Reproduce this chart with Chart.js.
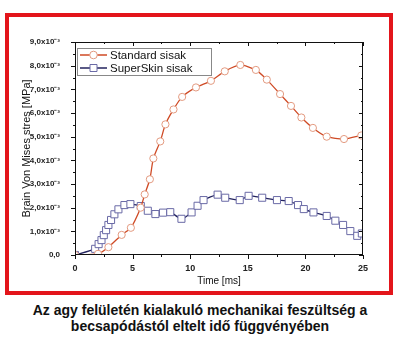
<!DOCTYPE html>
<html>
<head>
<meta charset="utf-8">
<script src="https://cdn.jsdelivr.net/npm/chart.js@4.4.1/dist/chart.umd.min.js"></script>
<style>
	html, body { margin: 0; padding: 0; background: #fff; }
	body { width: 400px; height: 352px; position: relative; overflow: hidden; }
	.frame {
		position: absolute; left: 5px; top: 13px; width: 388px; height: 282px;
		border: 4px solid #e3151b; box-sizing: border-box;
	}
	#chart { position: absolute; left: 0; top: 0; }
	.caption {
		position: absolute; left: 0; top: 302px; width: 400px; text-align: center;
		font: bold 14px "Liberation Sans", Arial, sans-serif; line-height: 16px; color: #111;
	}
</style>
</head>
<body>
<div class="frame"></div>
<canvas id="chart" width="400" height="300"></canvas>
<div class="caption">Az agy felületén kialakuló mechanikai feszültség a<br>becsapódástól eltelt idő függvényében</div>
<script>
// time in ms, stress in units of 1e-3 MPa
const stdTime   = [0, 2.0, 2.9, 4.05, 4.85, 5.7, 6.05, 6.5, 6.8, 7.4, 7.85, 8.55, 9.3, 10.5, 11.8, 13.0, 14.35, 15.7, 16.65, 17.8, 18.75, 19.65, 20.65, 21.85, 23.35, 24.85];
const stdStress = [0, 0.05, 0.33, 0.85, 1.15, 2.0, 2.56, 3.2, 4.08, 4.8, 5.52, 6.15, 6.68, 7.08, 7.36, 7.76, 8.03, 7.82, 7.41, 6.8, 6.3, 5.81, 5.37, 5.0, 4.9, 5.05];

const skinTime   = [0, 1.75, 2.05, 2.3, 2.5, 2.7, 2.9, 3.13, 3.42, 3.77, 4.29, 4.81, 5.71, 6.32, 6.98, 7.64, 8.27, 9.24, 10.12, 10.64, 11.16, 12.38, 13.04, 14.3, 15.07, 16.25, 17.53, 18.55, 19.36, 19.86, 20.7, 21.85, 22.6, 23.27, 23.9, 24.5, 24.9];
const skinStress = [0, 0.26, 0.46, 0.63, 0.84, 1.05, 1.27, 1.48, 1.72, 1.93, 2.11, 2.15, 2.07, 1.87, 1.73, 1.79, 1.81, 1.53, 1.8, 2.08, 2.32, 2.55, 2.42, 2.32, 2.5, 2.42, 2.32, 2.28, 2.11, 1.94, 1.8, 1.65, 1.45, 1.27, 1.01, 0.81, 0.91];

const seriesNames = ['Standard sisak', 'SuperSkin sisak'];
const xTicks = [0, 5, 10, 15, 20, 25];

const toPoints = (xs, ys) => xs.map((x, i) => ({ x: x, y: ys[i] }));

const fontFamily = '"Liberation Sans", Arial, sans-serif';

// frame box with mirrored ticks (major + minor)
const frameTicks = {
	id: 'frameTicks',
	afterDraw(chart) {
		const { ctx, chartArea: a, scales: { x, y } } = chart;
		ctx.save();
		ctx.strokeStyle = '#111';
		ctx.lineWidth = 1;
		ctx.strokeRect(a.left + 0.5, a.top + 0.5, a.right - a.left - 1, a.bottom - a.top - 1);
		ctx.beginPath();
		for (let v = 0; v <= 25; v += 2.5) {
			const px = Math.round(x.getPixelForValue(v)) + 0.5;
			const len = v % 5 === 0 ? 4 : 2;
			ctx.moveTo(px, a.bottom); ctx.lineTo(px, a.bottom + len);
			ctx.moveTo(px, a.top); ctx.lineTo(px, a.top + len);
		}
		for (let v = 0; v <= 9; v += 0.5) {
			const py = Math.round(y.getPixelForValue(v)) + 0.5;
			const len = v % 1 === 0 ? 4 : 2;
			ctx.moveTo(a.left, py); ctx.lineTo(a.left - len, py);
			ctx.moveTo(a.right, py); ctx.lineTo(a.right - len, py);
		}
		ctx.stroke();
		ctx.restore();
	}
};

// legend box inside the plot, top left
const innerLegend = {
	id: 'innerLegend',
	afterDraw(chart) {
		const { ctx, chartArea: a } = chart;
		const bx = a.left + 2, by = a.top + 6, bw = 134, bh = 27;
		ctx.save();
		ctx.fillStyle = '#fff';
		ctx.fillRect(bx, by, bw, bh);
		ctx.strokeStyle = '#888';
		ctx.lineWidth = 1;
		ctx.strokeRect(bx + 0.5, by + 0.5, bw, bh);
		ctx.font = '11.5px ' + fontFamily;
		ctx.textBaseline = 'middle';
		chart.data.datasets.forEach((ds, i) => {
			const cy = by + 7 + i * 13;
			ctx.strokeStyle = ds.borderColor;
			ctx.lineWidth = 1.5;
			ctx.beginPath();
			ctx.moveTo(bx + 3, cy); ctx.lineTo(bx + 30, cy);
			ctx.stroke();
			ctx.fillStyle = '#fff';
			ctx.strokeStyle = ds.pointBorderColor;
			ctx.lineWidth = 1;
			ctx.beginPath();
			if (ds.pointStyle === 'rect') {
				ctx.rect(bx + 13, cy - 3.5, 7, 7);
			} else {
				ctx.arc(bx + 16.5, cy, 3.8, 0, Math.PI * 2);
			}
			ctx.fill();
			ctx.stroke();
			ctx.fillStyle = '#111';
			ctx.fillText(ds.label, bx + 33, cy + 0.5);
		});
		ctx.restore();
	}
};

new Chart(document.getElementById('chart').getContext('2d'), {
	type: 'line',
	data: {
		datasets: [
			{
				label: seriesNames[0],
				data: toPoints(stdTime, stdStress),
				borderColor: '#cf4a25',
				borderWidth: 1.3,
				pointStyle: 'circle',
				pointRadius: 3.6,
				pointBackgroundColor: '#fff',
				pointBorderColor: '#e39a80',
				pointBorderWidth: 1,
				tension: 0.2
			},
			{
				label: seriesNames[1],
				data: toPoints(skinTime, skinStress),
				borderColor: '#23235e',
				borderWidth: 1.3,
				pointStyle: 'rect',
				pointRadius: 5,
				pointBackgroundColor: '#fff',
				pointBorderColor: '#6a6aa6',
				pointBorderWidth: 1,
				tension: 0.2
			}
		]
	},
	options: {
		responsive: false,
		animation: false,
		layout: { padding: { left: 5, right: 37, top: 42, bottom: 4 } },
		scales: {
			x: {
				type: 'linear',
				min: 0,
				max: 25,
				afterBuildTicks: s => { s.ticks = xTicks.map(v => ({ value: v })); },
				afterFit: s => { s.height = 41; },
				grid: { display: false },
				border: { display: false },
				ticks: { font: { family: fontFamily, size: 9, weight: 'bold' }, color: '#222', padding: 0, maxRotation: 0 },
				title: {
					display: true,
					text: 'Time [ms]',
					font: { family: fontFamily, size: 10 },
					color: '#111',
					padding: { bottom: 9 }
				}
			},
			y: {
				min: 0,
				max: 9,
				afterFit: s => { s.width = 70; },
				grid: { display: false },
				border: { display: false },
				ticks: {
					stepSize: 1,
					font: { family: fontFamily, size: 8, weight: 'bold' },
					color: '#222',
					padding: 7,
					callback: v => v === 0 ? '0,0' : v.toFixed(1).replace('.', ',') + 'x10\u207B\u00B3'
				},
				title: {
					display: true,
					text: 'Brain Von Mises stres [MPa]',
					font: { family: fontFamily, size: 11 },
					color: '#111',
					padding: { top: 15 }
				}
			}
		},
		plugins: {
			legend: { display: false },
			tooltip: { enabled: false }
		}
	},
	plugins: [frameTicks, innerLegend]
});
</script>
</body>
</html>
